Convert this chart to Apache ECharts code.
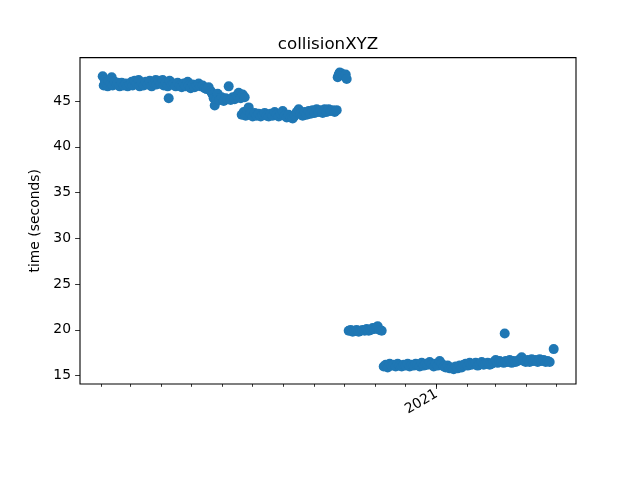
<!DOCTYPE html>
<html>
<head>
<meta charset="utf-8">
<script src="https://cdn.jsdelivr.net/npm/echarts@6/dist/echarts.min.js"></script>
<style>
html,body{margin:0;padding:0;background:#fff;}
#chart{width:640px;height:480px;}
</style>
</head>
<body>
<div id="chart"></div>
<script>
// Data: run day (days since 2020-02-01) and run time in seconds
const startDate = '2020-02-01';
const runDays = [
  1,2,3,4,6,7,9,10,11,13,15,16,18,20,22,24,26,28,30,31,33,35,37,38,40,42,44,46,48,50,52,54,55,57,59,61,62,64,66,67,68,70,72,74,76,78,80,82,84,86,87,89,91,93,95,97,99,101,103,105,107,109,110,
  111,112,113,115,116,118,120,122,124,126,127,129,131,133,135,137,139,141,143,
  140,142,144,146,147,149,151,153,155,157,159,161,163,165,167,169,171,173,175,177,179,181,183,185,187,189,191,193,195,197,199,201,203,205,207,209,211,213,215,217,219,221,223,225,227,229,231,233,235,
  236,237,238,240,242,244,245,
  247,249,251,253,255,257,259,261,263,265,267,269,271,273,275,276,278,280,
  282,284,286,288,290,292,294,296,298,300,302,304,306,308,310,312,314,316,318,320,322,324,326,328,330,332,334,336,338,340,342,344,346,348,350,352,354,356,358,360,362,364,366,368,370,372,374,376,378,380,382,384,386,388,390,392,394,396,398,400,402,403,404,406,408,410,412,414,416,418,420,422,424,426,428,430,432,434,436,438,440,442,444,446,448,452
];
const runTimes = [
  47.7,46.7,47.3,47.0,46.6,47.2,46.9,47.6,46.7,47.1,46.8,47.0,46.6,47.0,46.7,46.9,46.6,46.8,47.1,46.7,47.2,46.9,47.3,46.6,47.0,46.7,47.1,46.8,47.2,46.6,47.0,47.3,46.8,47.2,46.9,47.3,46.7,47.0,46.6,45.3,47.2,46.8,46.9,46.6,47.0,46.7,46.5,46.9,46.6,47.1,46.7,46.4,46.8,46.5,46.7,46.9,46.6,46.7,46.4,46.3,46.5,46.1,45.9,
  45.7,45.3,44.5,45.2,45.8,45.1,45.4,45.0,45.3,45.2,46.6,45.1,45.4,45.2,45.6,45.9,45.3,45.7,45.4,
  43.5,43.8,43.4,44.0,44.3,43.6,43.3,43.7,43.4,43.6,43.3,43.5,43.7,43.4,43.3,43.6,43.4,43.8,43.5,43.3,43.6,43.9,43.4,43.2,43.5,43.2,43.1,43.4,43.8,44.1,43.6,43.4,43.8,43.5,43.9,43.6,44.0,43.7,44.1,43.8,44.0,43.7,44.1,43.8,44.1,43.9,44.0,43.8,44.0,
  47.6,47.9,48.1,48.0,47.8,47.9,47.4,
  19.9,20.0,19.8,19.9,20.0,19.8,19.9,20.0,19.9,20.1,19.9,20.0,20.2,20.1,20.3,20.4,20.0,19.9,
  16.0,16.2,15.9,16.3,16.1,16.2,16.0,16.3,16.1,16.0,16.2,16.1,16.3,16.0,16.2,16.1,16.3,16.2,16.0,16.4,16.1,16.3,16.2,16.5,16.2,16.0,16.3,16.1,16.6,16.3,16.0,15.9,16.1,15.8,15.9,15.7,16.0,15.8,16.1,15.9,16.2,16.3,16.1,16.4,16.2,16.3,16.4,16.1,16.3,16.5,16.2,16.3,16.4,16.2,16.3,16.5,16.7,16.4,16.6,16.5,16.4,19.6,16.6,16.5,16.7,16.4,16.6,16.5,16.6,16.8,17.0,16.6,16.5,16.7,16.5,16.8,16.6,16.7,16.5,16.8,16.6,16.7,16.5,16.6,16.5,17.9
];
const yTicks = [15, 20, 25, 30, 35, 40, 45];
const monthTicks = ['2020-02-01','2020-03-01','2020-04-01','2020-05-01','2020-06-01','2020-07-01','2020-08-01','2020-09-01','2020-10-01','2020-11-01','2020-12-01','2021-01-01','2021-02-01','2021-03-01','2021-04-01','2021-05-01'];
const yearTicks = ['2021-01-01'];
const yearLabels = ['2021'];
const title = 'collisionXYZ';
const yName = 'time (seconds)';

const DAY = 86400000;
const ts = s => { const p = s.split('-').map(Number); return Date.UTC(p[0], p[1]-1, p[2]); };
const t0 = ts(startDate);
const points = runDays.map((d, i) => [t0 + d * DAY, runTimes[i]]);
const xMin = t0 - 21.7 * DAY;
const xMax = t0 + 474.3 * DAY;
const yearTs = yearTicks.map(ts);
const font = 'DejaVu Sans';

const chart = echarts.init(document.getElementById('chart'), null, {renderer: 'canvas'});
chart.setOption({
  animation: false,
  backgroundColor: '#fff',
  title: {
    text: title, left: 323, top: 31, textAlign: 'center',
    textStyle: {fontFamily: font, fontSize: 16.7, fontWeight: 'normal', color: '#000'}
  },
  grid: {left: 80, right: 64, top: 57.6, bottom: 96, show: true, borderColor: '#000', borderWidth: 1.1, backgroundColor: 'transparent'},
  xAxis: [{
    type: 'value', min: xMin, max: xMax,
    axisLine: {show: false},
    axisTick: {show: true, length: 2.8, lineStyle: {color: '#000', width: 0.8}, customValues: monthTicks.map(ts)},
    axisLabel: {show: false},
    splitLine: {show: false}
  }, {
    type: 'value', min: xMin, max: xMax, position: 'bottom',
    axisLine: {show: false},
    axisTick: {show: true, length: 4.9, lineStyle: {color: '#000', width: 0.8}, customValues: yearTs},
    axisLabel: {show: true, rotate: 30, margin: 9, customValues: yearTs,
      formatter: v => { const i = yearTs.indexOf(v); return i >= 0 ? yearLabels[i] : ''; },
      fontFamily: font, fontSize: 13.9, color: '#000'},
    splitLine: {show: false}
  }],
  yAxis: {
    type: 'value', min: 14.09, max: 49.74,
    name: yName, nameLocation: 'middle', nameGap: 31,
    nameTextStyle: {fontFamily: font, fontSize: 13.9, color: '#000'},
    axisLine: {show: false},
    axisTick: {show: true, length: 4.9, lineStyle: {color: '#000', width: 0.8}, customValues: yTicks},
    axisLabel: {show: true, margin: 9, customValues: yTicks, fontFamily: font, fontSize: 13.9, color: '#000'},
    splitLine: {show: false}
  },
  series: [{
    type: 'scatter', xAxisIndex: 0, data: points,
    symbolSize: 10,
    itemStyle: {color: '#1f77b4', opacity: 1},
    emphasis: {disabled: true}
  }]
});
</script>
</body>
</html>
